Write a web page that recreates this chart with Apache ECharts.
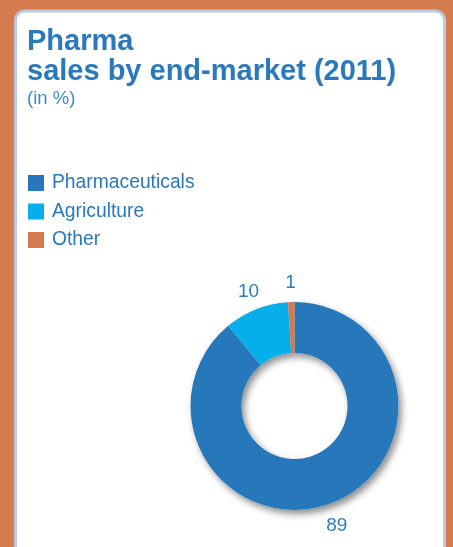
<!DOCTYPE html>
<html>
<head>
<meta charset="utf-8">
<script src="https://cdn.jsdelivr.net/npm/echarts@6/dist/echarts.min.js"></script>
<style>
  html, body { margin: 0; padding: 0; background: #D47C50; }
  #chart { width: 453px; height: 547px; }
</style>
</head>
<body>
<div id="chart"></div>
<script>
// Sales split by end-market, 2011, in percent
var categories = ['Pharmaceuticals', 'Agriculture', 'Other'];
var shares = [89, 10, 1];
var sliceColors = ['#2777BB', '#06AEEA', '#D57A4E'];

var BLUE = '#2A79BD';
var FONT = '"Liberation Sans", Arial, Helvetica, sans-serif';

var pieData = categories.map(function (name, i) {
  return { name: name, value: shares[i], itemStyle: { color: sliceColors[i] } };
});
var plainData = categories.map(function (name, i) {
  return { name: name, value: shares[i] };
});

var center = [294.5, 406];

var chart = echarts.init(document.getElementById('chart'), null, { renderer: 'canvas' });
chart.setOption({
  backgroundColor: '#D47C50',
  animation: false,
  graphic: [{
    type: 'rect',
    z: -10,
    shape: { x: 15.5, y: 11, width: 429, height: 580, r: 9 },
    style: { fill: '#FFFFFF', stroke: '#BCC8DE', lineWidth: 3 }
  }],
  title: {
    text: 'Pharma\nsales by end-market (2011)',
    subtext: '(in %)',
    left: 27,
    top: 27,
    padding: 0,
    itemGap: 2,
    textStyle: { fontFamily: FONT, fontWeight: 'bold', fontSize: 29, lineHeight: 30, color: BLUE },
    subtextStyle: { fontFamily: FONT, fontSize: 18.5, lineHeight: 20, color: '#4189C8' }
  },
  legend: {
    orient: 'vertical',
    left: 28,
    top: 173.5,
    padding: 0,
    icon: 'rect',
    itemWidth: 16,
    itemHeight: 16,
    itemGap: 9.5,
    selectedMode: false,
    data: categories,
    textStyle: { fontFamily: FONT, fontSize: 19.3, color: BLUE, padding: [0, 0, 0, 3] }
  },
  series: [
    {
      // the ring itself
      type: 'pie',
      z: 3,
      center: center,
      radius: [53, 104],
      startAngle: 90,
      clockwise: true,
      silent: true,
      label: { show: false },
      labelLine: { show: false },
      data: pieData
    },
    {
      // soft drop shadow beneath the ring
      type: 'pie',
      z: 2,
      center: center,
      radius: [53, 104],
      startAngle: 90,
      clockwise: true,
      silent: true,
      label: { show: false },
      labelLine: { show: false },
      itemStyle: {
        color: '#FFFFFF',
        shadowColor: 'rgba(0,0,0,0.45)',
        shadowBlur: 7,
        shadowOffsetX: 3,
        shadowOffsetY: 4
      },
      data: plainData
    },
    {
      // value labels around the ring
      type: 'pie',
      z: 4,
      center: center,
      radius: [112, 132],
      startAngle: 90,
      clockwise: true,
      silent: true,
      itemStyle: { color: 'rgba(0,0,0,0)' },
      labelLine: { show: false },
      label: {
        show: true,
        position: 'inside',
        formatter: '{c}',
        offset: [0, 2],
        fontFamily: FONT,
        fontSize: 19,
        color: '#2E7DC0'
      },
      data: plainData
    }
  ]
});
</script>
</body>
</html>
